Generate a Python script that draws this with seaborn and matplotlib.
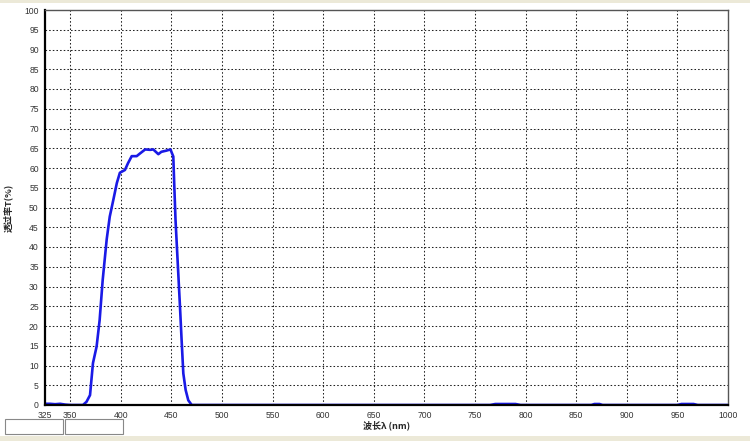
import pandas as pd
import matplotlib.pyplot as plt
import matplotlib.patches as mpatches
import seaborn as sns

# transmission spectrum
wavelength = [325, 330, 335, 340, 345, 350, 355, 360, 362.5, 366, 369.5, 372.4, 376, 379, 382,
              386, 389, 392.5, 396, 399, 404, 407, 410.7, 415.6, 419, 424, 429, 432, 437,
              440, 445, 449, 451.8, 452.8, 454, 455, 456.7, 458.4, 460, 461.7, 464, 466.6,
              470, 480, 500, 600, 700, 765, 770, 790, 795, 865, 868, 873, 876, 950, 954,
              966, 970, 1000]
transmit = [0.3, 0.3, 0.2, 0.3, 0.1, 0.0, 0.0, 0.0, 0.0, 0.8, 2.5, 10.6, 14.8, 21.5, 31.6,
            42.0, 47.7, 51.9, 56.2, 58.8, 59.5, 61.2, 63.0, 63.0, 63.7, 64.7, 64.6, 64.7, 63.5,
            64.1, 64.4, 64.7, 62.9, 55.3, 46.8, 41.8, 33.4, 24.9, 16.5, 8.0, 3.8, 1.2,
            0.0, 0.0, 0.0, 0.0, 0.0, 0.0, 0.25, 0.25, 0.0, 0.0, 0.25, 0.25, 0.0, 0.0, 0.25,
            0.25, 0.0, 0.0]

x_ticks = [325, 350, 400, 450, 500, 550, 600, 650, 700, 750, 800, 850, 900, 950, 1000]
y_ticks = list(range(0, 101, 5))

df = pd.DataFrame({'wl': wavelength, 'T': transmit})

sns.set_style('white')
plt.rcParams['font.family'] = ['Liberation Sans', 'Noto Sans CJK SC', 'DejaVu Sans']

fig = plt.figure(figsize=(7.5, 4.41), dpi=100)
fig.patch.set_facecolor('white')
ax = fig.add_axes([45 / 750, 1 - 405 / 441, 683 / 750, 395 / 441])

sns.lineplot(data=df, x='wl', y='T', ax=ax, color='#1a1ae6', linewidth=1.9)

ax.set_xlim(325, 1000)
ax.set_ylim(0, 100)
ax.set_xticks(x_ticks)
ax.set_xticks(range(330, 1000, 10), minor=True)
ax.set_yticks(y_ticks)
ax.tick_params(axis='both', labelsize=6.2, length=3, width=0.8, pad=1.5, colors='#333333')
ax.tick_params(axis='x', which='minor', length=2, width=0.6)

# dotted grid, skip the edges
for xv in x_ticks[1:-1]:
    ax.axvline(xv, color='#222222', linestyle=(0, (1.5, 2)), linewidth=0.75, zorder=0)
for yv in y_ticks[1:-1]:
    ax.axhline(yv, color='#222222', linestyle=(0, (1.5, 2)), linewidth=0.75, zorder=0)

for side in ['left', 'bottom']:
    ax.spines[side].set_linewidth(1.6)
    ax.spines[side].set_color('black')
for side in ['top', 'right']:
    ax.spines[side].set_linewidth(1.0)
    ax.spines[side].set_color('#555555')

ax.set_xlabel('波长λ (nm)', fontsize=6.5, fontweight='bold',
              family=['Noto Sans CJK SC', 'DejaVu Sans'], labelpad=0)
ax.set_ylabel('透过率T(%)', fontsize=6.5, fontweight='bold',
              family=['Noto Sans CJK SC', 'DejaVu Sans'])
ax.yaxis.set_label_coords(-0.047, 0.5)

# window frame bits around the chart
fig.patches.append(mpatches.Rectangle((0, 0), 1, 5 / 441, transform=fig.transFigure,
                                      facecolor='#ece9d8', edgecolor='none'))
fig.patches.append(mpatches.Rectangle((0, 1 - 3 / 441), 1, 3 / 441, transform=fig.transFigure,
                                      facecolor='#ece9d8', edgecolor='none'))
fig.patches.append(mpatches.Rectangle((5 / 750, 7 / 441), 58 / 750, 15 / 441,
                                      transform=fig.transFigure, facecolor='white',
                                      edgecolor='#888888', linewidth=0.8))
fig.patches.append(mpatches.Rectangle((65 / 750, 7 / 441), 58 / 750, 15 / 441,
                                      transform=fig.transFigure, facecolor='white',
                                      edgecolor='#888888', linewidth=0.8))

fig.savefig('out.png', dpi=100)
